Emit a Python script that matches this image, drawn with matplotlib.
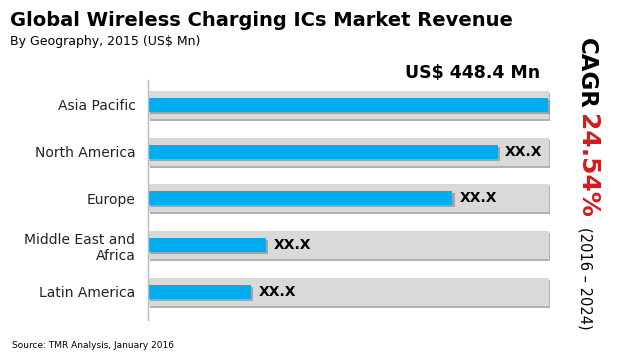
import numpy as np
from matplotlib import pyplot as plt
import matplotlib.patheffects as pe

# data (Asia Pacific is the labelled total)
regions = ['Asia Pacific', 'North America', 'Europe', 'Middle East and\nAfrica', 'Latin America']
revenue = [448.4, 392.2, 341.6, 132.6, 115.8]
value_labels = ['', 'XX.X', 'XX.X', 'XX.X', 'XX.X']
full_scale = 450.0

blue = '#00AEEF'
track = '#D9D9D9'

plt.rcParams['font.family'] = ['DejaVu Sans']

fig = plt.figure(figsize=(6.2, 3.6), dpi=100)
ax = fig.add_axes([148/620, 40/360, 402/620, 240/360])

y = np.arange(len(regions))
shadow = [pe.withSimplePatchShadow(offset=(1.5, -1.5), shadow_rgbFace='#808080', alpha=0.6)]
ax.barh(y, [full_scale]*len(y), height=0.6, color=track, path_effects=shadow, zorder=1)
ax.barh(y, revenue, height=0.3, color=blue, path_effects=shadow, zorder=2)

for yi, v, lab in zip(y, revenue, value_labels):
    if lab:
        ax.text(v + 8, yi, lab, va='center', ha='left', fontsize=10, fontweight='bold', color='black')

ax.set_xlim(0, 451)
ax.set_ylim(4.6, -0.53)
ax.set_yticks(y)
ax.set_yticklabels(regions, fontsize=10, color='#222222')
ax.tick_params(axis='y', length=0, pad=9)
ax.set_xticks([])
for s in ['top', 'right', 'bottom']:
    ax.spines[s].set_visible(False)
ax.spines['left'].set_color('#bbbbbb')
ax.spines['left'].set_linewidth(1)

fig.text(10/620, 1 - 20/360, 'Global Wireless Charging ICs Market Revenue', fontsize=14,
         fontweight='bold', va='center', ha='left')
fig.text(10/620, 1 - 42/360, 'By Geography, 2015 (US$ Mn)', fontsize=9, va='center', ha='left')
fig.text(540/620, 1 - 73/360, 'US$ 448.4 Mn', fontsize=12.5, fontweight='bold', va='center', ha='right')
fig.text(12/620, 1 - 346/360, 'Source: TMR Analysis, January 2016', fontsize=6.5, va='center', ha='left')

# CAGR block, rotated to read downward
fig.text(586/620, 1 - 73/360, 'CAGR', fontsize=16.5, fontweight='bold', rotation=-90,
         va='center', ha='center')
fig.text(587/620, 1 - 166/360, '24.54%', fontsize=18, fontweight='bold', color='#D7191C',
         rotation=-90, va='center', ha='center')
fig.text(585/620, 1 - 278/360, '(2016 \u2013 2024)', fontsize=10.5, rotation=-90,
         va='center', ha='center')

fig.savefig('out.png', dpi=100)
